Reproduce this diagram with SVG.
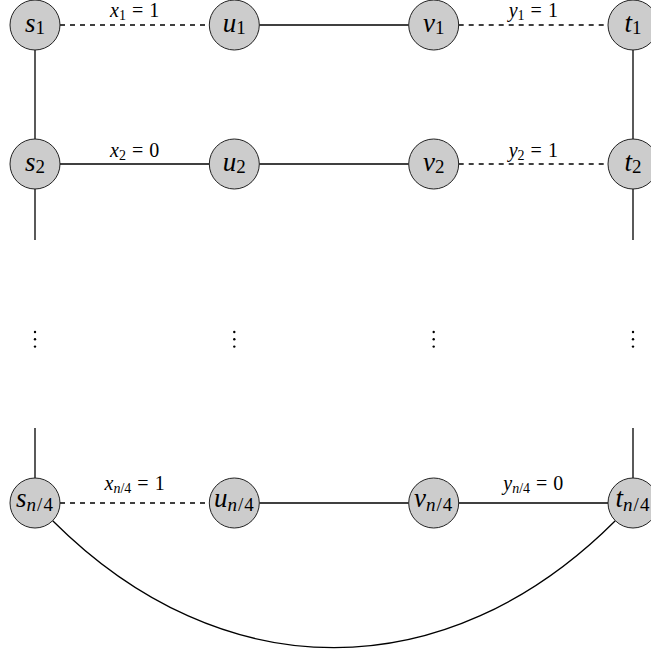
<svg xmlns="http://www.w3.org/2000/svg" width="651" height="655" viewBox="0 0 651 655">
  <style>
    .node { fill: #cccccc; stroke: #222222; stroke-width: 1; }
    .edge { fill: none; stroke: #000000; stroke-width: 1.3; }
    .dashed { stroke-dasharray: 5 5; }
    .dot { fill: #000; }
  </style>

  <!-- connectors -->
  <g id="edges">
    <!-- row 1 -->
    <line class="edge dashed" x1="60" y1="25" x2="209.3" y2="25"/>
    <line class="edge" x1="259.3" y1="25" x2="408.7" y2="25"/>
    <line class="edge dashed" x1="458.7" y1="25" x2="608" y2="25"/>
    <!-- row 2 -->
    <line class="edge" x1="60" y1="164" x2="209.3" y2="164"/>
    <line class="edge" x1="259.3" y1="164" x2="408.7" y2="164"/>
    <line class="edge dashed" x1="458.7" y1="164" x2="608" y2="164"/>
    <!-- last row -->
    <line class="edge dashed" x1="60" y1="503" x2="209.3" y2="503"/>
    <line class="edge" x1="259.3" y1="503" x2="408.7" y2="503"/>
    <line class="edge" x1="458.7" y1="503" x2="608" y2="503"/>
    <!-- verticals -->
    <line class="edge" x1="35" y1="50" x2="35" y2="139"/>
    <line class="edge" x1="633" y1="50" x2="633" y2="139"/>
    <line class="edge" x1="35" y1="189" x2="35" y2="240"/>
    <line class="edge" x1="633" y1="189" x2="633" y2="240"/>
    <line class="edge" x1="35" y1="428" x2="35" y2="478"/>
    <line class="edge" x1="633" y1="428" x2="633" y2="478"/>
    <!-- closing arc -->
    <path class="edge" d="M 52.7 520.7 C 222 690, 446 690, 615.3 520.7"/>
  </g>

  <!-- edge labels -->
  <g id="edge-labels" font-family="'Liberation Serif', 'Times New Roman', serif" font-size="20" text-anchor="middle" fill="#000">
    <text x="134.6" y="16.7"><tspan font-style="italic">x</tspan><tspan font-size="14" dy="3">1</tspan><tspan dy="-3" dx="6">=</tspan><tspan dx="6">1</tspan></text>
    <text x="533.3" y="16.7"><tspan font-style="italic">y</tspan><tspan font-size="14" dy="3">1</tspan><tspan dy="-3" dx="6">=</tspan><tspan dx="6">1</tspan></text>
    <text x="134.6" y="156.5"><tspan font-style="italic">x</tspan><tspan font-size="14" dy="3">2</tspan><tspan dy="-3" dx="6">=</tspan><tspan dx="6">0</tspan></text>
    <text x="533.3" y="156.5"><tspan font-style="italic">y</tspan><tspan font-size="14" dy="3">2</tspan><tspan dy="-3" dx="6">=</tspan><tspan dx="6">1</tspan></text>
    <text x="134.6" y="490"><tspan font-style="italic">x</tspan><tspan font-size="14" dy="3"><tspan font-style="italic">n</tspan>/4</tspan><tspan dy="-3" dx="6">=</tspan><tspan dx="6">1</tspan></text>
    <text x="533.3" y="490"><tspan font-style="italic">y</tspan><tspan font-size="14" dy="3"><tspan font-style="italic">n</tspan>/4</tspan><tspan dy="-3" dx="6">=</tspan><tspan dx="6">0</tspan></text>
  </g>

  <!-- vertical ellipses -->
  <g id="ellipses">
    <circle class="dot" cx="35" cy="332" r="1.2"/><circle class="dot" cx="35" cy="339.3" r="1.2"/><circle class="dot" cx="35" cy="346.6" r="1.2"/>
    <circle class="dot" cx="234.3" cy="332" r="1.2"/><circle class="dot" cx="234.3" cy="339.3" r="1.2"/><circle class="dot" cx="234.3" cy="346.6" r="1.2"/>
    <circle class="dot" cx="433.7" cy="332" r="1.2"/><circle class="dot" cx="433.7" cy="339.3" r="1.2"/><circle class="dot" cx="433.7" cy="346.6" r="1.2"/>
    <circle class="dot" cx="633" cy="332" r="1.2"/><circle class="dot" cx="633" cy="339.3" r="1.2"/><circle class="dot" cx="633" cy="346.6" r="1.2"/>
  </g>

  <g id="nodes" font-family="'Liberation Serif', 'Times New Roman', serif" font-size="27" text-anchor="middle" fill="#000">
    <!-- row 1 -->
    <g id="s1"><circle class="node" cx="35" cy="25" r="25"/><text x="35" y="31.5"><tspan font-style="italic">s</tspan><tspan font-size="19" dy="2">1</tspan></text></g>
    <g id="u1"><circle class="node" cx="234.3" cy="25" r="25"/><text x="234.3" y="31.5"><tspan font-style="italic">u</tspan><tspan font-size="19" dy="2">1</tspan></text></g>
    <g id="v1"><circle class="node" cx="433.7" cy="25" r="25"/><text x="433.7" y="31.5"><tspan font-style="italic">v</tspan><tspan font-size="19" dy="2">1</tspan></text></g>
    <g id="t1"><circle class="node" cx="633" cy="25" r="25"/><text x="633" y="31.5"><tspan font-style="italic">t</tspan><tspan font-size="19" dy="2">1</tspan></text></g>
    <!-- row 2 -->
    <g id="s2"><circle class="node" cx="35" cy="164" r="25"/><text x="35" y="170.5"><tspan font-style="italic">s</tspan><tspan font-size="19" dy="2">2</tspan></text></g>
    <g id="u2"><circle class="node" cx="234.3" cy="164" r="25"/><text x="234.3" y="170.5"><tspan font-style="italic">u</tspan><tspan font-size="19" dy="2">2</tspan></text></g>
    <g id="v2"><circle class="node" cx="433.7" cy="164" r="25"/><text x="433.7" y="170.5"><tspan font-style="italic">v</tspan><tspan font-size="19" dy="2">2</tspan></text></g>
    <g id="t2"><circle class="node" cx="633" cy="164" r="25"/><text x="633" y="170.5"><tspan font-style="italic">t</tspan><tspan font-size="19" dy="2">2</tspan></text></g>
    <!-- last row -->
    <g id="sn4"><circle class="node" cx="35" cy="503" r="25"/><text x="35" y="507"><tspan font-style="italic">s</tspan><tspan font-size="19" dy="3.5" letter-spacing="1"><tspan font-style="italic">n</tspan>/4</tspan></text></g>
    <g id="un4"><circle class="node" cx="234.3" cy="503" r="25"/><text x="234.3" y="507"><tspan font-style="italic">u</tspan><tspan font-size="19" dy="3.5" letter-spacing="1"><tspan font-style="italic">n</tspan>/4</tspan></text></g>
    <g id="vn4"><circle class="node" cx="433.7" cy="503" r="25"/><text x="433.7" y="507"><tspan font-style="italic">v</tspan><tspan font-size="19" dy="3.5" letter-spacing="1"><tspan font-style="italic">n</tspan>/4</tspan></text></g>
    <g id="tn4"><circle class="node" cx="633" cy="503" r="25"/><text x="633" y="507"><tspan font-style="italic">t</tspan><tspan font-size="19" dy="3.5" letter-spacing="1"><tspan font-style="italic">n</tspan>/4</tspan></text></g>
  </g>
</svg>
